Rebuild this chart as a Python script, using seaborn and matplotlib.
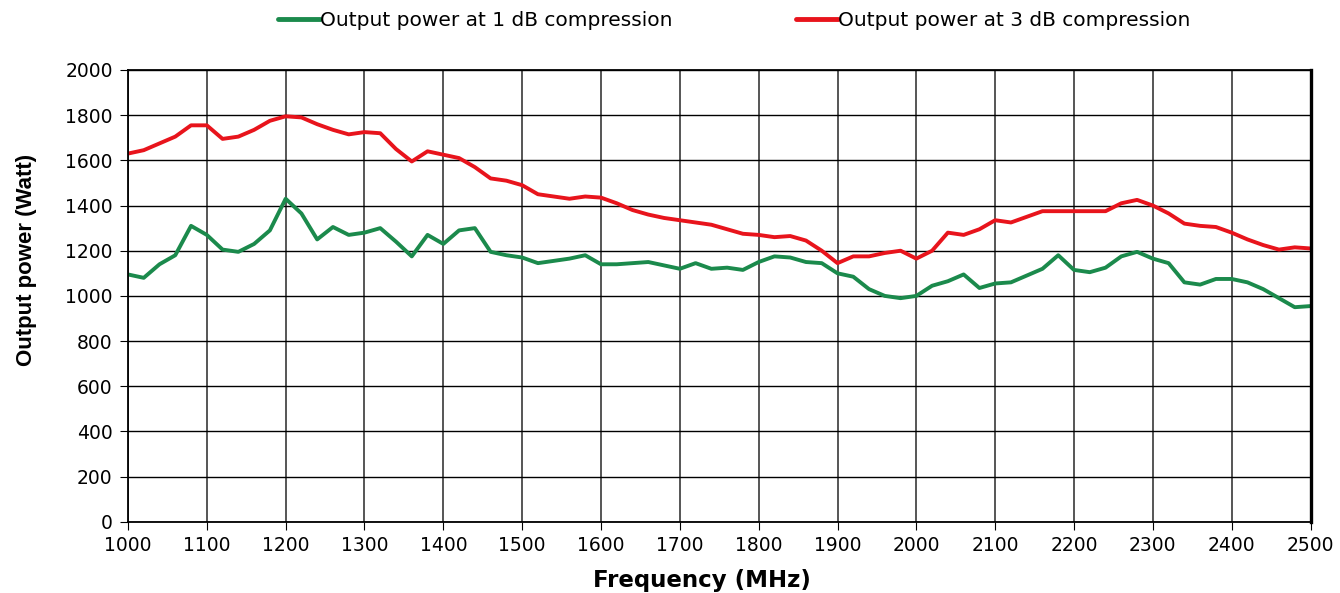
import numpy as np
import pandas as pd
import seaborn as sns
import matplotlib.pyplot as plt

# frequency grid, 20 MHz steps
freq = list(range(1000, 2501, 20))

# output power at 1 dB compression (Watt)
p1db = [1095, 1080, 1140, 1180, 1310, 1270, 1205, 1195, 1230, 1290,
        1430, 1365, 1250, 1305, 1270, 1280, 1300, 1240, 1175, 1270,
        1230, 1290, 1300, 1195, 1180, 1170, 1145, 1155, 1165, 1180,
        1140, 1140, 1145, 1150, 1135, 1120, 1145, 1120, 1125, 1115,
        1150, 1175, 1170, 1150, 1145, 1100, 1085, 1030, 1000, 990,
        1000, 1045, 1065, 1095, 1035, 1055, 1060, 1090, 1120, 1180,
        1115, 1105, 1125, 1175, 1195, 1165, 1145, 1060, 1050, 1075,
        1075, 1060, 1030, 990, 950, 955]

# output power at 3 dB compression (Watt)
p3db = [1630, 1645, 1675, 1705, 1755, 1755, 1695, 1705, 1735, 1775,
        1795, 1790, 1760, 1735, 1715, 1725, 1720, 1650, 1595, 1640,
        1625, 1610, 1570, 1520, 1510, 1490, 1450, 1440, 1430, 1440,
        1435, 1410, 1380, 1360, 1345, 1335, 1325, 1315, 1295, 1275,
        1270, 1260, 1265, 1245, 1200, 1145, 1175, 1175, 1190, 1200,
        1165, 1200, 1280, 1270, 1295, 1335, 1325, 1350, 1375, 1375,
        1375, 1375, 1375, 1410, 1425, 1400, 1365, 1320, 1310, 1305,
        1280, 1250, 1225, 1205, 1215, 1210]

labels = ['Output power at 1 dB compression', 'Output power at 3 dB compression']
colors = ['#1b8a4c', '#e8141c']

df = pd.DataFrame({
    'freq': freq * 2,
    'power': p1db + p3db,
    'series': [labels[0]] * len(freq) + [labels[1]] * len(freq),
})

sns.set_style('white')
plt.rcParams['font.family'] = ['DejaVu Sans']
plt.rcParams['text.color'] = 'black'
plt.rcParams['axes.labelcolor'] = 'black'
plt.rcParams['xtick.color'] = 'black'
plt.rcParams['ytick.color'] = 'black'

fig = plt.figure(figsize=(13.4, 5.93), dpi=100)
ax = fig.add_axes([0.0955, 0.12, 0.8825, 0.762])

sns.lineplot(data=df, x='freq', y='power', hue='series', palette=colors,
             linewidth=2.8, ax=ax, legend=True)

ax.set_xlim(1000, 2500)
ax.set_ylim(0, 2000)
ax.set_xticks(range(1000, 2501, 100))
ax.set_yticks(range(0, 2001, 200))
ax.grid(True, color='black', linewidth=1.0)
ax.xaxis.grid(True, color='#555555', linewidth=1.4)
ax.set_axisbelow(True)
for s in ax.spines.values():
    s.set_color('black')
    s.set_linewidth(1.3)
ax.spines['right'].set_linewidth(2.4)
ax.tick_params(axis='both', labelsize=13.5, length=6, color='black',
               direction='out', bottom=True, left=True)
ax.tick_params(axis='y', pad=5)
ax.tick_params(axis='x', pad=4)

ax.set_xlabel('Frequency (MHz)', fontsize=16.5, fontweight='bold')
ax.xaxis.set_label_coords(0.485, -0.105)
ax.set_ylabel('Output power (Watt)', fontsize=16, fontweight='bold',
              family=['Liberation Sans'])
ax.yaxis.set_label_coords(-0.077, 0.58)

leg = ax.legend(loc='center left', bbox_to_anchor=(0.12, 1.11), ncol=2, frameon=False,
                fontsize=14.5, handlelength=2.1, handletextpad=0.0, columnspacing=6.1,
                borderaxespad=0)
for h in leg.get_lines():
    h.set_linewidth(3.5)

fig.savefig('out.png', dpi=100)
